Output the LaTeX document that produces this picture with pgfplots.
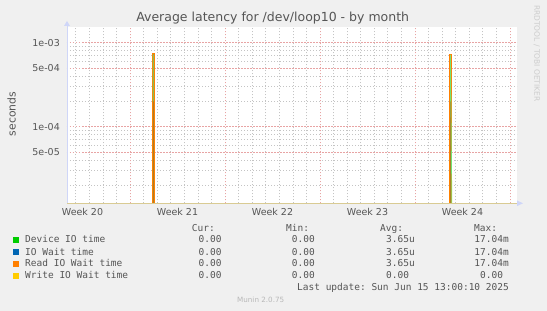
\documentclass[border=0pt]{standalone}
\usepackage{fontspec}
\setmainfont{DejaVu Sans}
\setmonofont{DejaVu Sans Mono}
\usepackage{pgfplots}
\pgfplotsset{compat=1.18}
\definecolor{bg}{HTML}{F0F0F0}
\definecolor{fontcol}{HTML}{555555}
\definecolor{axiscol}{HTML}{CFD6F8}
\definecolor{basecol}{HTML}{D9CB93}
\definecolor{minorgrid}{HTML}{C4C4C4}
\definecolor{majorgrid}{HTML}{E8A4A4}
\definecolor{devcol}{HTML}{00CC00}
\definecolor{iocol}{HTML}{0066B3}
\definecolor{readcol}{HTML}{FF8000}
\definecolor{writecol}{HTML}{FFCC00}
\definecolor{spikefill}{HTML}{A8802C}
\definecolor{rrdcol}{HTML}{CCCCCC}
\begin{document}
\begin{tikzpicture}
\fill[bg] (0,0) rectangle (547pt,311pt);
\begin{axis}[
  at={(67pt,107.7pt)}, anchor=south west,
  width=450pt, height=176.3pt, scale only axis,
  xmin=-4.642, xmax=28.517,
  ymode=log, ymin=1.225e-5, ymax=1.538e-3,
  axis line style={draw=none},
  axis background/.style={fill=white},
  xtick={-3.5,3.5,10.5,17.5,24.5},
  xticklabels={Week 20,Week 21,Week 22,Week 23,Week 24},
  minor xtick={-4,-3,...,28},
  extra x ticks={0,7,14,21,28},
  extra x tick labels={},
  extra x tick style={grid=major, major grid style={majorgrid, line width=0.7pt, dash pattern=on 1.5pt off 1.5pt}},
  ytick={2e-5,3e-5,4e-5,5e-5,6e-5,7e-5,8e-5,9e-5,1e-4,2e-4,3e-4,4e-4,5e-4,6e-4,7e-4,8e-4,9e-4,1e-3},
  yticklabels={,,,5e-05,,,,,1e-04,,,,5e-04,,,,,1e-03},
  extra y ticks={5e-5,1e-4,5e-4,1e-3},
  extra y tick labels={},
  extra y tick style={grid=major, major grid style={majorgrid, line width=0.7pt, dash pattern=on 1.5pt off 1.5pt}},
  xmajorgrids=false, xminorgrids=true, ymajorgrids=true, yminorgrids=false,
  major tick length=0pt, minor tick length=0pt,
  minor grid style={minorgrid, line width=0.7pt, dash pattern=on 1pt off 2pt},
  major grid style={minorgrid, line width=0.7pt, dash pattern=on 1pt off 2pt},
  tick label style={font=\fontsize{9.5}{11}\selectfont, text=fontcol},
  yticklabel style={anchor=east, inner sep=0pt, xshift=-7pt},
  xticklabel style={anchor=north, inner sep=0pt, yshift=-4.5pt},
]
% spike 1
\addplot[draw=none, fill=spikefill] coordinates {(1.636,1e-6) (1.636,7.48e-4) (1.78,7.48e-4) (1.78,1e-6)};
\addplot[iocol, line width=0.6pt] coordinates {(1.636,1e-6) (1.636,7.48e-4) (1.78,7.48e-4) (1.78,1e-6)};
\addplot[readcol, line width=0.6pt] coordinates {(1.636,1e-6) (1.636,7.48e-4) (1.78,7.48e-4) (1.78,1e-6)};
\addplot[devcol!55!white, line width=0.7pt] coordinates {(1.705,2e-4) (1.705,7.2e-4) (1.71,7.2e-4) (1.715,2e-4)};
% spike 2
\addplot[draw=none, fill=spikefill] coordinates {(23.54,1e-6) (23.54,7.3e-4) (23.69,7.3e-4) (23.69,1e-6)};
\addplot[iocol, line width=0.6pt] coordinates {(23.54,1e-6) (23.54,7.3e-4) (23.69,7.3e-4) (23.69,1e-6)};
\addplot[readcol, line width=0.6pt] coordinates {(23.54,1e-6) (23.54,7.3e-4) (23.69,7.3e-4) (23.69,1e-6)};
\addplot[devcol!55!white, line width=0.7pt] coordinates {(23.61,2e-4) (23.61,7.1e-4) (23.62,7.1e-4) (23.70,2.5e-5) (23.75,1e-6)};
\end{axis}
% axis decorations
\draw[basecol, line width=1pt] (67pt,107.7pt) -- (517pt,107.7pt);
\draw[axiscol, line width=0.8pt] (67pt,107.7pt) -- (67pt,285pt);
\fill[axiscol] (64pt,285pt) -- (70pt,285pt) -- (67pt,290pt) -- cycle;
\fill[axiscol] (517pt,104.9pt) -- (517pt,110.5pt) -- (523pt,107.7pt) -- cycle;
% title and labels
\node[anchor=base, text=fontcol, font=\fontsize{12.5}{14}\selectfont] at (272.7pt,289pt) {Average latency for /dev/loop10 - by month};
\node[rotate=90, text=fontcol, font=\fontsize{10.8}{12}\selectfont] at (11.5pt,197pt) {seconds};
\node[rotate=-90, text=rrdcol, font=\fontsize{7.5}{9}\selectfont] at (536.7pt,257.7pt) {RRDTOOL / TOBI OETIKER};
% legend
\begin{scope}[every node/.style={text=fontcol, font=\ttfamily\fontsize{9.5}{11}\selectfont, inner sep=0pt}]
\node[anchor=base east] at (215pt,79.4pt) {Cur:};
\node[anchor=base east] at (309.3pt,79.4pt) {Min:};
\node[anchor=base east] at (403.3pt,79.4pt) {Avg:};
\node[anchor=base east] at (497.3pt,79.4pt) {Max:};
\fill[devcol] (13.3pt,68.3pt) rectangle (19.3pt,74.3pt);
\fill[iocol] (13.3pt,56.3pt) rectangle (19.3pt,62.3pt);
\fill[readcol] (13.3pt,44.3pt) rectangle (19.3pt,50.3pt);
\fill[writecol] (13.3pt,32.3pt) rectangle (19.3pt,38.3pt);
\node[anchor=base west] at (25pt,68pt) {Device IO time};
\node[anchor=base west] at (25pt,56pt) {IO Wait time};
\node[anchor=base west] at (25pt,44pt) {Read IO Wait time};
\node[anchor=base west] at (25pt,32pt) {Write IO Wait time};
\foreach \y in {68,56,44,32} {
  \node[anchor=base east] at (221.7pt,\y pt) {0.00};
  \node[anchor=base east] at (315pt,\y pt) {0.00};
}
\foreach \y in {68,56,44} {
  \node[anchor=base east] at (415pt,\y pt) {3.65u};
  \node[anchor=base east] at (509pt,\y pt) {17.04m};
}
\node[anchor=base east] at (409.3pt,32pt) {0.00};
\node[anchor=base east] at (503.3pt,32pt) {0.00};
\node[anchor=base east] at (509pt,20.4pt) {Last update: Sun Jun 15 13:00:10 2025};
\end{scope}
\node[text=rrdcol!90!black, font=\fontsize{7.2}{9}\selectfont] at (260.7pt,10.7pt) {Munin 2.0.75};
\end{tikzpicture}
\end{document}
